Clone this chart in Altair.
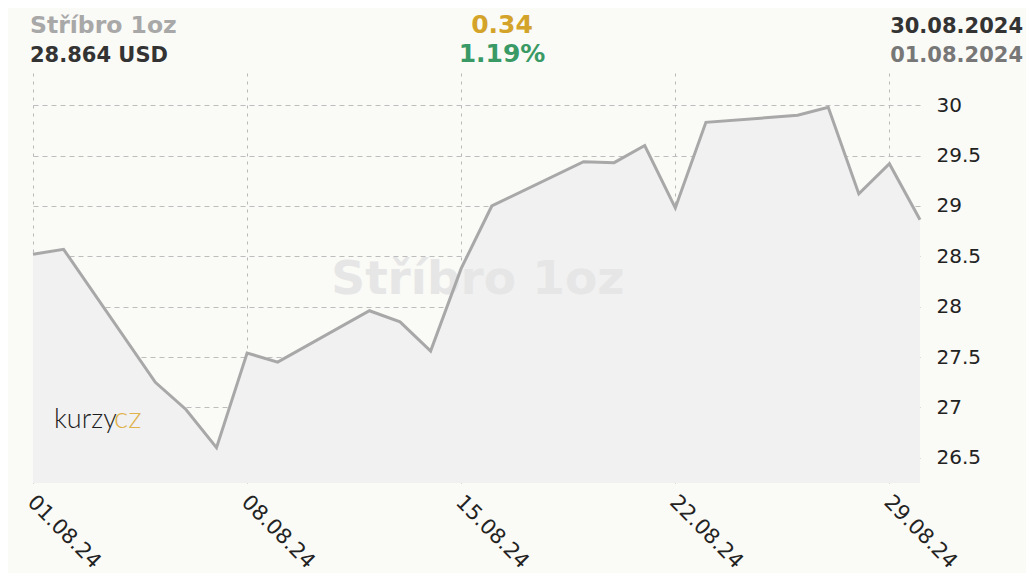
import altair as alt
import pandas as pd

dates = ["2024-08-01", "2024-08-02", "2024-08-05", "2024-08-06", "2024-08-07",
         "2024-08-08", "2024-08-09", "2024-08-12", "2024-08-13", "2024-08-14",
         "2024-08-15", "2024-08-16", "2024-08-19", "2024-08-20", "2024-08-21",
         "2024-08-22", "2024-08-23", "2024-08-26", "2024-08-27", "2024-08-28",
         "2024-08-29", "2024-08-30"]
prices = [28.52, 28.57, 27.25, 26.98, 26.60,
          27.54, 27.45, 27.96, 27.85, 27.56,
          28.38, 29.00, 29.44, 29.43, 29.60,
          28.98, 29.83, 29.90, 29.98, 29.12,
          29.42, 28.864]
y_ticks = [26.5, 27, 27.5, 28, 28.5, 29, 29.5, 30]
y_min, y_max = 26.25, 30.32
x_tick_days = [1, 8, 15, 22, 29]

title_name = "Stříbro 1oz"
last_value = "28.864 USD"
change_abs = "0.34"
change_pct = "1.19%"
date_to = "30.08.2024"
date_from = "01.08.2024"

df = pd.DataFrame({"date": dates, "price": prices})

W, H = 887, 410
BG = "#fafaf6"
FONT = "DejaVu Sans"

x_scale = alt.Scale(type="utc",
                    domain=[alt.DateTime(year=2024, month=8, date=1, utc=True),
                            alt.DateTime(year=2024, month=8, date=30, utc=True)])
y_scale = alt.Scale(domain=[y_min, y_max], nice=False, zero=False)

x_axis = alt.Axis(values=[alt.DateTime(year=2024, month=8, date=d, utc=True) for d in x_tick_days],
                  format="%d.%m.%y", labelAngle=45, labelAlign="left", labelBaseline="top",
                  labelPadding=8, labelOffset=5, labelFontSize=21, labelFont=FONT,
                  labelColor="#222", ticks=False, domain=False, grid=True,
                  gridColor="#b8b8b8", gridDash=[3, 5], gridWidth=1, title=None,
                  labelFlush=False, labelOverlap=False)
y_axis = alt.Axis(orient="right", values=y_ticks, format="~g", labelFontSize=20,
                  labelFont=FONT, labelColor="#222", labelPadding=16, ticks=False,
                  domain=False, grid=True, gridColor="#bdbdbd", gridDash=[5, 4],
                  gridWidth=1, title=None)

base = alt.Chart(df)

area = base.mark_area(color="#f1f1f1", opacity=1).encode(
    x=alt.X("date:T", scale=x_scale, axis=x_axis),
    y=alt.Y("price:Q", scale=y_scale, axis=y_axis),
    y2=alt.datum(y_min),
)
line = base.mark_line(color="#a8a8a8", strokeWidth=3).encode(
    x=alt.X("date:T", scale=x_scale),
    y=alt.Y("price:Q", scale=y_scale),
)

def label(text, x, y, size, color, align="left", weight="normal", font=FONT):
    return alt.Chart(pd.DataFrame({"t": [text]})).mark_text(
        align=align, baseline="alphabetic", fontSize=size, fontWeight=weight,
        font=font, color=color
    ).encode(text="t:N", x=alt.value(x), y=alt.value(y))

pad_l, pad_t = 25, 65
ox, oy = 8 + pad_l, 8 + pad_t  # absolute page position of the plot origin
wm = label(title_name, 478 - ox, 294 - oy, 47, "#e6e6e6", align="center", weight="bold")
logo1 = label("kurzy", 54 - ox, 428 - oy, 27, "#1e1e1e", weight=300, font="Lato")
logo2 = label("cz", 114 - ox, 428 - oy, 30, "#e0b24a", weight=300, font="Lato")

t1 = label(title_name, 30 - ox, 33 - oy, 23.5, "#a8a8a8", weight="bold")
t2 = label(last_value, 30 - ox, 62 - oy, 21, "#333333", weight="bold")
t3 = label(change_abs, 502 - ox, 33 - oy, 25, "#d4a32a", align="center", weight="bold")
t4 = label(change_pct, 502 - ox, 62 - oy, 25, "#3a9a66", align="center", weight="bold")
t5 = label(date_to, 1023 - ox, 33 - oy, 21, "#333333", align="right", weight="bold")
t6 = label(date_from, 1023 - ox, 62 - oy, 21, "#777777", align="right", weight="bold")

chart = alt.layer(area, wm, logo1, logo2, line, t1, t2, t3, t4, t5, t6).properties(
    width=W, height=H,
    background=BG,
    padding={"left": pad_l, "top": pad_t, "right": 106, "bottom": 90},
    autosize=alt.AutoSizeParams(type="none"),
).configure_view(strokeWidth=0, strokeOpacity=0)

chart.save("out.html", embed_options={"renderer": "svg", "actions": False})
